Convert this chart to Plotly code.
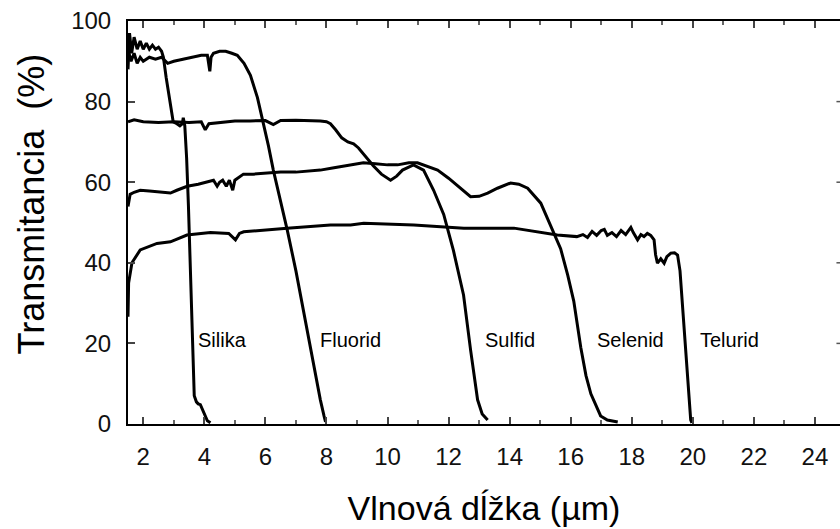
import plotly.graph_objects as go

# ---------------- data ----------------
silika_x = [1.5, 1.55, 1.62, 1.7, 1.8, 1.9, 2.0, 2.1, 2.2, 2.3, 2.4, 2.5, 2.6, 2.66, 2.75, 2.85,
            2.98, 3.1, 3.2, 3.28, 3.31, 3.36, 3.42, 3.48, 3.54, 3.6, 3.67, 3.74, 3.8, 3.87, 3.95,
            4.03, 4.1, 4.2]
silika_y = [88, 97, 92, 96, 93, 95, 93, 94.5, 93, 94, 93, 93.5, 92.5, 91, 86, 81,
            75, 74.5, 74, 74.5, 76, 74, 66, 54, 37, 20, 7, 5.5, 5, 4.8, 3.5,
            2, 0.8, 0.3]

fluorid_x = [1.5, 1.6, 1.7, 1.8, 1.9, 2.0, 2.2, 2.4, 2.6, 2.8, 3.0, 3.3, 3.6, 3.9, 4.1, 4.18,
             4.22, 4.3, 4.5, 4.7, 4.9, 5.08, 5.3, 5.51, 5.74, 5.93, 6.1, 6.26, 6.49, 6.72, 7.0,
             7.38, 7.6, 7.8, 7.92, 7.97]
fluorid_y = [93, 90, 92, 89.5, 91, 90, 91, 90.5, 91, 89.5, 90, 90.5, 91, 91.5, 91.5, 87.5,
             91, 92, 92.5, 92.5, 92, 91.5, 89.5, 86.5, 81, 75, 69, 63, 55.5, 48, 38,
             22.6, 14, 6, 2, 0.5]

sulfid_x = [1.5, 1.7, 2.0, 2.5, 3.0, 3.5, 3.9, 4.03, 4.15, 4.5, 5.0, 5.5, 6.0, 6.26, 6.5, 7.0,
            7.5, 7.8, 8.0, 8.13, 8.3, 8.5, 8.7, 8.89, 9.05, 9.21, 9.54, 9.8, 10.1, 10.3, 10.49,
            10.85, 11.18, 11.51, 11.84, 12.16, 12.49, 12.72, 12.95, 13.1, 13.28]
sulfid_y = [75, 75.5, 75, 74.8, 75, 74.8, 75, 73, 74.5, 74.8, 75.2, 75.2, 75.3, 74.3, 75.3, 75.4,
            75.3, 75.2, 75, 74.5, 73, 71, 70, 69.5, 68.5, 67, 64, 62, 60.5, 61.5, 63,
            64.3, 63, 58, 52, 43, 32, 18.4, 6, 2.5, 1]

selenid_x = [1.5, 1.57, 1.7, 1.9, 2.2, 2.5, 2.89, 3.1, 3.44, 3.8, 4.1, 4.3, 4.42, 4.5, 4.6,
             4.72, 4.82, 4.93, 5.0, 5.28, 5.6, 6.0, 6.5, 7.0, 7.5, 7.8, 8.2, 8.79, 9.21, 9.6,
             10.0, 10.33, 10.7, 10.98, 11.3, 11.64, 12.0, 12.3, 12.72, 13.0, 13.28, 13.6, 14.03,
             14.3, 14.59, 15.02, 15.44, 15.67, 15.9, 16.1, 16.33, 16.5, 16.66, 16.85, 16.98,
             17.2, 17.54]
selenid_y = [54, 57, 57.5, 58, 57.8, 57.5, 57.3, 58, 59, 59.5, 60, 60.5, 59, 60, 60.5,
             59, 60.5, 58, 60.5, 62, 62, 62.2, 62.5, 62.5, 62.8, 63, 63.5, 64.3, 64.8, 64.6,
             64.3, 64.3, 64.8, 64.8, 64, 63, 61, 59, 56.4, 56.5, 57.3, 58.5, 59.8,
             59.5, 58.5, 54.8, 47.5, 43.5, 37, 30.5, 19, 12, 7.5, 4, 2,
             1, 0.5]

telurid_x = [1.5, 1.52, 1.63, 1.9, 2.45, 2.89, 3.43, 4.2, 4.8, 5.02, 5.15, 5.29, 6.71, 8.13,
             8.79, 9.22, 10.86, 12.5, 14.14, 15.56, 16.2, 16.4, 16.55, 16.7, 16.85, 17.0, 17.1,
             17.2, 17.35, 17.5, 17.65, 17.8, 17.97, 18.05, 18.19, 18.3, 18.4, 18.51, 18.62,
             18.73, 18.78, 18.84, 18.95, 19.06, 19.15, 19.28, 19.4, 19.5, 19.58, 19.64, 19.77,
             19.86, 19.93, 19.97]
telurid_y = [26.6, 35, 40, 43.2, 44.8, 45.2, 46.9, 47.5, 47.3, 45.7, 47.3, 47.7, 48.6, 49.4,
             49.4, 49.8, 49.4, 48.6, 48.6, 46.9, 46.5, 47, 46.3, 47.8, 46.8, 48, 48.3,
             46.8, 47.5, 46.5, 48, 47, 48.8, 47.5, 45.7, 47, 46.5, 47.3, 46.8,
             45.7, 42, 39.9, 41, 39.9, 41.5, 42.4, 42.5, 41.9, 38, 32, 18.4,
             8, 1, 0.3]

series = [
    ("Silika", silika_x, silika_y),
    ("Fluorid", fluorid_x, fluorid_y),
    ("Sulfid", sulfid_x, sulfid_y),
    ("Selenid", selenid_x, selenid_y),
    ("Telurid", telurid_x, telurid_y),
]

# label anchor positions (data coords, left edge of text)
label_names = ["Silika", "Fluorid", "Sulfid", "Selenid", "Telurid"]
label_x = [3.74, 7.72, 13.13, 16.8, 20.18]
label_y = [20.8, 20.8, 20.8, 20.8, 20.8]

x_ticks = [2, 4, 6, 8, 10, 12, 14, 16, 18, 20, 22, 24]
y_ticks = [0, 20, 40, 60, 80, 100]
x_range = [1.5, 24.82]

x_title = "Vlnová dĺžka (µm)"
y_title = "Transmitancia  (%)"

FONT = "Liberation Sans, Arial, sans-serif"

fig = go.Figure()
for name, xs, ys in series:
    fig.add_trace(go.Scatter(x=xs, y=ys, mode="lines", name=name,
                             line=dict(color="black", width=3), showlegend=False))

for name, lx, ly in zip(label_names, label_x, label_y):
    fig.add_annotation(x=lx, y=ly, xref="x", yref="y", text=name, showarrow=False,
                       xanchor="left", yanchor="middle",
                       font=dict(family=FONT, size=20, color="black"))

# y-axis title (annotation so it can sit slightly above centre, as in the original)
fig.add_annotation(x=-0.135, y=0.547, xref="paper", yref="paper", text=y_title,
                   showarrow=False, textangle=-90, xanchor="center", yanchor="middle",
                   font=dict(family=FONT, size=36, color="black"))

# small tick stubs of the (off-page) right axis
for yv in y_ticks[1:-1]:
    fig.add_shape(type="line", xref="paper", yref="y", x0=0.995, x1=1.0, y0=yv, y1=yv,
                  line=dict(color="#555555", width=1.5))

tick_common = dict(ticks="inside", ticklen=7, tickwidth=1.5, tickcolor="#444444",
                   showgrid=False, zeroline=False)
minor_common = dict(ticks="inside", ticklen=4, tickwidth=1.5, tickcolor="#666666", dtick=1,
                    tick0=0, showgrid=False)

fig.update_layout(
    width=840, height=529,
    margin=dict(l=128, r=0, t=21, b=105),
    paper_bgcolor="white", plot_bgcolor="white",
    font=dict(family=FONT, color="black"),
    xaxis=dict(
        range=x_range, tickvals=x_ticks, ticktext=[str(v) for v in x_ticks],
        minor=minor_common,
        showline=True, linecolor="black", linewidth=2, mirror=False,
        tickfont=dict(family=FONT, size=24, color="#111111"), ticklabelstandoff=10,
        title=dict(text=x_title, font=dict(family=FONT, size=34, color="black"),
                   standoff=27),
        **tick_common,
    ),
    xaxis2=dict(
        overlaying="x", side="top", anchor="y", range=x_range,
        tickvals=x_ticks, showticklabels=False,
        minor=minor_common,
        showline=True, linecolor="black", linewidth=2,
        **tick_common,
    ),
    yaxis=dict(
        range=[0, 100], tickvals=y_ticks, ticktext=[str(v) for v in y_ticks],
        showline=True, linecolor="black", linewidth=2, mirror=False,
        tickfont=dict(family=FONT, size=24, color="#111111"), ticklabelstandoff=10,
        **tick_common,
    ),
)

# helper trace so the top axis (frame line with ticks) is drawn
fig.add_trace(go.Scatter(x=x_range, y=[None, None], xaxis="x2", yaxis="y",
                         mode="lines", showlegend=False, hoverinfo="skip"))

fig.write_html("out.html")
